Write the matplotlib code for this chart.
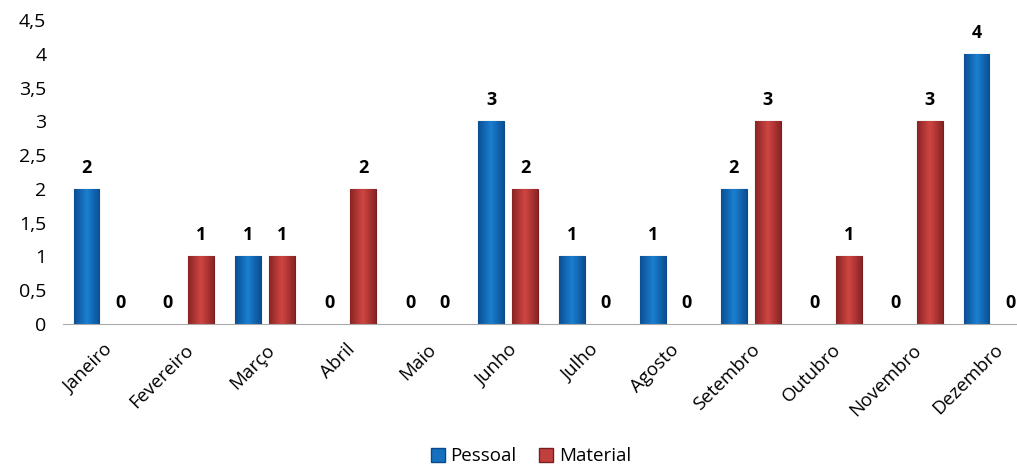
import numpy as np
import matplotlib.pyplot as plt
from matplotlib.colors import LinearSegmentedColormap
from matplotlib.patches import Patch

meses = ['Janeiro', 'Fevereiro', 'Março', 'Abril', 'Maio', 'Junho', 'Julho',
         'Agosto', 'Setembro', 'Outubro', 'Novembro', 'Dezembro']
pessoal = [2, 0, 1, 0, 0, 3, 1, 1, 2, 0, 0, 4]
material = [0, 1, 1, 2, 0, 2, 0, 0, 3, 1, 3, 0]
yticks = [0, 0.5, 1, 1.5, 2, 2.5, 3, 3.5, 4, 4.5]

plt.rcParams['font.family'] = ['Open Sans', 'DejaVu Sans']

fig = plt.figure(figsize=(10.17, 4.66), dpi=100)
# plot area runs past the right edge like in the original
ax = fig.add_axes([63 / 1017, 142 / 466, 971 / 1017, 304 / 466])

x = np.arange(len(meses))
w = 0.32
off = 0.21

cm_blue = LinearSegmentedColormap.from_list('b', ['#0b4f94', '#1a7fd0', '#0b4f94'])
cm_red = LinearSegmentedColormap.from_list('r', ['#8a2424', '#d04643', '#8a2424'])

def gradient_bars(bars, cmap, edge):
    grad = np.linspace(0, 1, 64).reshape(1, -1)
    for b in bars:
        h = b.get_height()
        if h <= 0:
            b.set_linewidth(0)
            continue
        b.set_edgecolor(edge)
        b.set_linewidth(0.8)
        x0 = b.get_x()
        im = ax.imshow(grad, cmap=cmap, aspect='auto', extent=[x0, x0 + b.get_width(), 0, h],
                       zorder=b.get_zorder() + 0.1)
        im.set_clip_path(b)

b1 = ax.bar(x - off, pessoal, w, color='#1570c0', zorder=2)
b2 = ax.bar(x + off, material, w, color='#c0403d', zorder=2)
gradient_bars(b1, cm_blue, '#0a4a8a')
gradient_bars(b2, cm_red, '#7a1f1f')

for xs, vals in ((x - off, pessoal), (x + off, material)):
    for xi, v in zip(xs, vals):
        ax.text(xi, v + 0.18, str(v), ha='center', va='bottom', fontsize=13,
                fontweight='bold')

ax.set_xlim(-0.5, len(meses) - 0.5)
ax.set_ylim(0, 4.5)
ax.set_yticks(yticks)
ax.set_yticklabels([('%g' % t).replace('.', ',') for t in yticks], fontsize=14)
ax.set_xticks(x)
ax.set_xticklabels(meses, rotation=45, ha='right', rotation_mode='anchor', fontsize=13.5)
ax.tick_params(axis='y', length=0, pad=12)
ax.tick_params(axis='x', length=0, pad=12)
for s in ['top', 'right', 'left']:
    ax.spines[s].set_visible(False)
ax.spines['bottom'].set_color('#aaaaaa')

handles = [Patch(facecolor='#1570c0', edgecolor='#0a4a8a', label='Pessoal'),
           Patch(facecolor='#c0403d', edgecolor='#7a1f1f', label='Material')]
fig.legend(handles=handles, loc='lower center', bbox_to_anchor=(0.522, -0.035), ncol=2,
           frameon=False, fontsize=13.5, handlelength=0.75, handleheight=0.75,
           handletextpad=0.3, columnspacing=1.2)

fig.savefig('out.png', dpi=100)
